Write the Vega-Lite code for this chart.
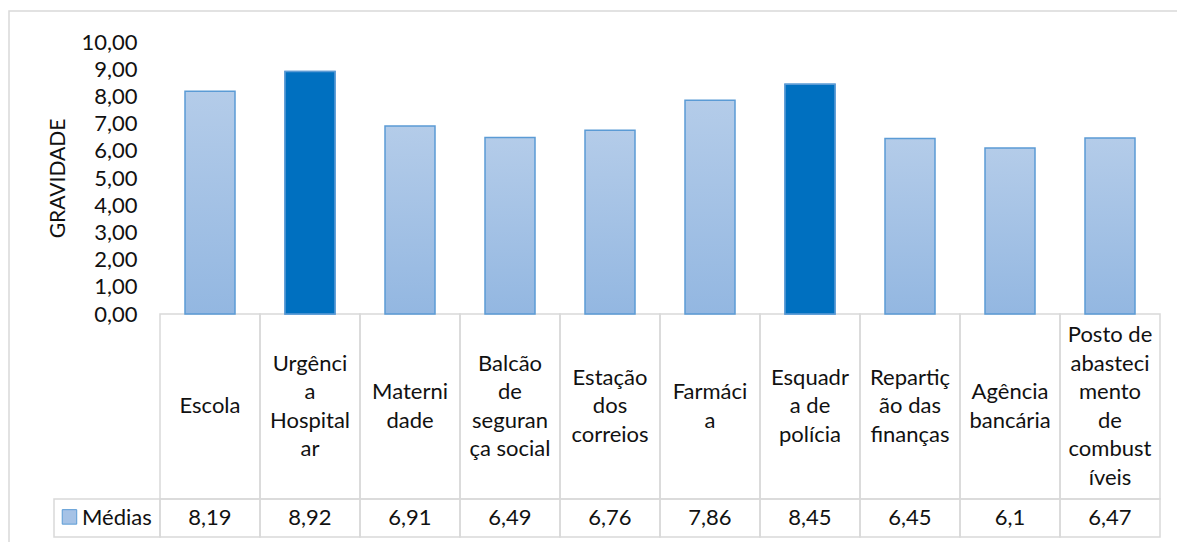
{
  "$schema": "https://vega.github.io/schema/vega-lite/v6.json",
  "width": 1174,
  "height": 537,
  "padding": {"left": 9, "top": 11, "right": 0, "bottom": 0},
  "background": "white",
  "config": {
    "view": {"stroke": "#d9d9d9", "strokeWidth": 1.5},
    "font": "Lato",
    "locale": {"number": {"decimal": ",", "thousands": ".", "grouping": [3], "currency": ["", " €"]}}
  },
  "data": {
    "values": [
      {"local": "Escola", "rotulo": "Escola", "media": 8.19},
      {"local": "Urgência Hospitalar", "rotulo": "Urgênci\na\nHospital\nar", "media": 8.92},
      {"local": "Maternidade", "rotulo": "Materni\ndade", "media": 6.91},
      {"local": "Balcão de segurança social", "rotulo": "Balcão\nde\nseguran\nça social", "media": 6.49},
      {"local": "Estação dos correios", "rotulo": "Estação\ndos\ncorreios", "media": 6.76},
      {"local": "Farmácia", "rotulo": "Farmáci\na", "media": 7.86},
      {"local": "Esquadra de polícia", "rotulo": "Esquadr\na de\npolícia", "media": 8.45},
      {"local": "Repartição das finanças", "rotulo": "Repartiç\não das\nfinanças", "media": 6.45},
      {"local": "Agência bancária", "rotulo": "Agência\nbancária", "media": 6.1},
      {"local": "Posto de abastecimento de combustíveis", "rotulo": "Posto de\nabasteci\nmento\nde\ncombust\níveis", "media": 6.47}
    ]
  },
  "layer": [
    {
      "layer": [
        {
          "mark": {"type": "rect", "fill": null, "stroke": "#d9d9d9", "strokeWidth": 1.5},
          "encoding": {
            "x": {"field": "local", "type": "nominal", "sort": null, "axis": null,
                  "scale": {"range": [151, 1151], "paddingInner": 0, "paddingOuter": 0}},
            "y": {"datum": 0},
            "y2": {"datum": -6.8}
          }
        },
        {
          "mark": {"type": "rect", "fill": null, "stroke": "#d9d9d9", "strokeWidth": 1.5},
          "encoding": {
            "x": {"field": "local", "type": "nominal", "sort": null, "axis": null},
            "y": {"datum": -6.8},
            "y2": {"datum": -8.2}
          }
        },
        {
          "mark": {
            "type": "bar",
            "width": {"band": 0.5},
            "fill": {"gradient": "linear", "x1": 0, "y1": 0, "x2": 0, "y2": 1,
                     "stops": [{"offset": 0, "color": "#B4CCE9"}, {"offset": 1, "color": "#93B7E1"}]},
            "stroke": "#5B9BD5",
            "strokeWidth": 1.5
          },
          "encoding": {
            "x": {"field": "local", "type": "nominal", "sort": null, "axis": null},
            "y": {
              "field": "media", "type": "quantitative",
              "scale": {"domain": [0, 10], "range": [303, 31], "nice": false},
              "axis": {
                "title": "GRAVIDADE",
                "offset": -151,
                "tickCount": 10,
                "format": ".2f",
                "ticks": false,
                "domain": false,
                "labelPadding": 23,
                "labelFontSize": 22,
                "labelColor": "#111111",
                "titleFontSize": 21,
                "titleFontWeight": "normal",
                "titleColor": "#111111",
                "titlePadding": 12,
                "gridColor": "#d9d9d9",
                "gridWidth": 1.5
              }
            }
          }
        },
        {
          "transform": [{"filter": {"field": "local", "oneOf": ["Urgência Hospitalar", "Esquadra de polícia"]}}],
          "mark": {"type": "bar", "width": {"band": 0.5}, "fill": "#0070C0", "stroke": "#5B9BD5", "strokeWidth": 1.5},
          "encoding": {
            "x": {"field": "local", "type": "nominal", "sort": null, "axis": null},
            "y": {"field": "media", "type": "quantitative"}
          }
        },
        {
          "mark": {"type": "text", "lineBreak": "\n", "lineHeight": 28.5, "fontSize": 22, "color": "#111111", "align": "center", "baseline": "middle",
                   "dy": {"expr": "-(length(split(datum.rotulo, '\\n')) - 1) * 14.25"}},
          "encoding": {
            "x": {"field": "local", "type": "nominal", "sort": null, "axis": null},
            "y": {"datum": -3.4},
            "text": {"field": "rotulo", "type": "nominal"}
          }
        },
        {
          "mark": {"type": "text", "fontSize": 22, "color": "#111111", "align": "center", "baseline": "middle"},
          "encoding": {
            "x": {"field": "local", "type": "nominal", "sort": null, "axis": null},
            "y": {"datum": -7.5},
            "text": {"field": "media", "type": "quantitative", "format": ".3~g"}
          }
        }
      ]
    },
    {
      "data": {"values": [{"serie": "Médias"}]},
      "layer": [
        {
          "mark": {"type": "rect", "fill": null, "stroke": "#d9d9d9", "strokeWidth": 1.5},
          "encoding": {
            "x": {"field": "serie", "type": "nominal", "axis": null,
                  "scale": {"range": [45, 151], "paddingInner": 0, "paddingOuter": 0}},
            "y": {"datum": -6.8},
            "y2": {"datum": -8.2}
          }
        },
        {
          "mark": {"type": "point", "shape": "square", "size": 210, "filled": true, "fill": "#A5C2E6", "stroke": "#5B9BD5", "strokeWidth": 1, "opacity": 1},
          "encoding": {
            "x": {"field": "serie", "type": "nominal", "axis": null, "bandPosition": 0.146},
            "y": {"datum": -7.46}
          }
        },
        {
          "mark": {"type": "text", "fontSize": 22, "color": "#111111", "align": "left", "baseline": "middle"},
          "encoding": {
            "x": {"field": "serie", "type": "nominal", "axis": null, "bandPosition": 0.264},
            "y": {"datum": -7.5},
            "text": {"field": "serie", "type": "nominal"}
          }
        }
      ]
    }
  ],
  "resolve": {"scale": {"x": "independent"}}
}
